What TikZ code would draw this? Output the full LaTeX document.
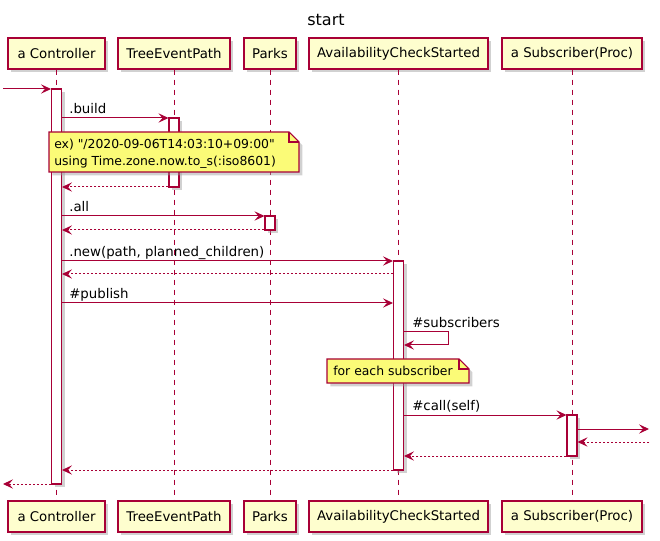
\documentclass[tikz,border=0pt]{standalone}
\usepackage{fontspec}
\newfontfamily\dvfont{DejaVu Sans}[Ligatures=TeXOff]
\usetikzlibrary{arrows.meta,shadows}
\definecolor{pumlred}{HTML}{A80036}
\definecolor{pumlbox}{HTML}{FEFECE}
\definecolor{pumlnote}{HTML}{FBFB77}
\newcommand\mkact[4]{\node[actb, minimum height={(#4-#3)*0.75pt}] (#1) at (#2,{(#3+#4)/2}) {};}
\begin{document}
\begin{tikzpicture}[x=0.75pt,y=-0.75pt,
  every node/.style={font=\dvfont\fontsize{10pt}{12.75pt}\selectfont},
  notefont/.style={font=\dvfont\fontsize{9.3pt}{12.75pt}\selectfont},
  shad/.style={drop shadow={shadow xshift=2.5pt, shadow yshift=-2.5pt, fill=black!40, opacity=0.45}},
  part/.style={draw=pumlred, line width=1.1pt, fill=pumlbox, minimum height=23.25pt, inner sep=0pt, shad},
  actb/.style={draw=pumlred, line width=0.8pt, fill=white, minimum width=7.5pt, inner sep=0pt, shad},
  lifeline/.style={draw=pumlred, line width=0.75pt, dash pattern=on 3.75pt off 3.75pt},
  msg/.style={draw=pumlred, line width=0.75pt, -{Stealth[length=7.5pt, width=7pt, inset=3pt]}},
  ret/.style={msg, dash pattern=on 1.5pt off 1.5pt},
  lbl/.style={anchor=base west, inner sep=0pt},
  notebg/.style={draw=pumlred, line width=0.8pt, fill=pumlnote, shad},
  notefold/.style={draw=pumlred, line width=0.8pt, line join=miter}
]
\useasboundingbox (0,0) rectangle (660,541);

% title
\node[font=\dvfont\fontsize{12pt}{14pt}\selectfont] (title) at (326,20) {start};

% participants top
\node[part, minimum width=72.75pt] (pCt) at (56.5,53.5) {a Controller};
\node[part, minimum width=84pt] (pTt) at (174,53.5) {TreeEventPath};
\node[part, minimum width=39pt] (pPt) at (270,53.5) {Parks};
\node[part, minimum width=134.25pt] (pAt) at (398.5,53.5) {AvailabilityCheckStarted};
\node[part, minimum width=105pt] (pSt) at (572,53.5) {a Subscriber(Proc)};
% participants bottom
\node[part, minimum width=72.75pt] (pCb) at (56.5,516.5) {a Controller};
\node[part, minimum width=84pt] (pTb) at (174,516.5) {TreeEventPath};
\node[part, minimum width=39pt] (pPb) at (270,516.5) {Parks};
\node[part, minimum width=134.25pt] (pAb) at (398.5,516.5) {AvailabilityCheckStarted};
\node[part, minimum width=105pt] (pSb) at (572,516.5) {a Subscriber(Proc)};

% lifelines
\draw[lifeline] (pCt.south) -- (pCb.north);
\draw[lifeline] (pTt.south) -- (pTb.north);
\draw[lifeline] (pPt.south) -- (pPb.north);
\draw[lifeline] (pAt.south) -- (pAb.north);
\draw[lifeline] (pSt.south) -- (pSb.north);

% activation bars
\mkact{aC}{56.5}{89}{484}
\mkact{aT}{174}{118}{187}
\mkact{aP}{270}{216}{230}
\mkact{aA}{398.5}{261}{470}
\mkact{aS}{572}{415}{456}

% free ends
\coordinate (inL) at (3,89);
\coordinate (endL) at (3,484);
\coordinate (outR) at (649,429);
\coordinate (backR) at (649,442);

% messages
\draw[msg] (inL) -- (aC.west |- 0,89);

\draw[msg] (aC.east |- 0,118) -- (aT.west |- 0,118);
\node[lbl] (l1) at (69,113.5) {.build};
\draw[ret] (aT.west |- 0,187) -- (aC.east |- 0,187);

\draw[msg] (aC.east |- 0,216) -- (aP.west |- 0,216);
\node[lbl] (l2) at (69,211.5) {.all};
\draw[ret] (aP.west |- 0,230) -- (aC.east |- 0,230);

\draw[msg] (aC.east |- 0,261) -- (aA.west |- 0,261);
\node[lbl] (l3) at (69,256.5) {.new(path, planned\_children)};
\draw[ret] (aA.west |- 0,274) -- (aC.east |- 0,274);

\draw[msg] (aC.east |- 0,303) -- (aA.west |- 0,303);
\node[lbl] (l4) at (69,298.5) {\#publish};

\draw[msg] (aA.east |- 0,332) -| (448,345) -- (aA.east |- 0,345);
\node[lbl] (l5) at (412,327.5) {\#subscribers};

\draw[msg] (aA.east |- 0,415) -- (aS.west |- 0,415);
\node[lbl] (l6) at (412,410.5) {\#call(self)};

\draw[msg] (aS.east |- 0,429) -- (outR);
\draw[ret] (backR) -- (aS.east |- 0,442);
\draw[ret] (aS.west |- 0,456) -- (aA.east |- 0,456);
\draw[ret] (aA.west |- 0,470) -- (aC.east |- 0,470);
\draw[ret] (aC.west |- 0,484) -- (endL);

% note 1
\path[notebg] (49,132) -- (289,132) -- (299,142) -- (299,172) -- (49,172) -- cycle;
\draw[notefold] (289,132) -- (289,142) -- (299,142);
\node[notefont, anchor=west, align=left, inner sep=0pt] (n1) at (54,153.5) {ex) "/2020-09-06T14:03:10+09:00"\\using Time.zone.now.to\_s(:iso8601)};

% note 2
\path[notebg] (327,359) -- (459,359) -- (469,369) -- (469,383) -- (327,383) -- cycle;
\draw[notefold] (459,359) -- (459,369) -- (469,369);
\node[notefont, anchor=west, inner sep=0pt] (n2) at (333,371) {for each subscriber};
\end{tikzpicture}
\end{document}
